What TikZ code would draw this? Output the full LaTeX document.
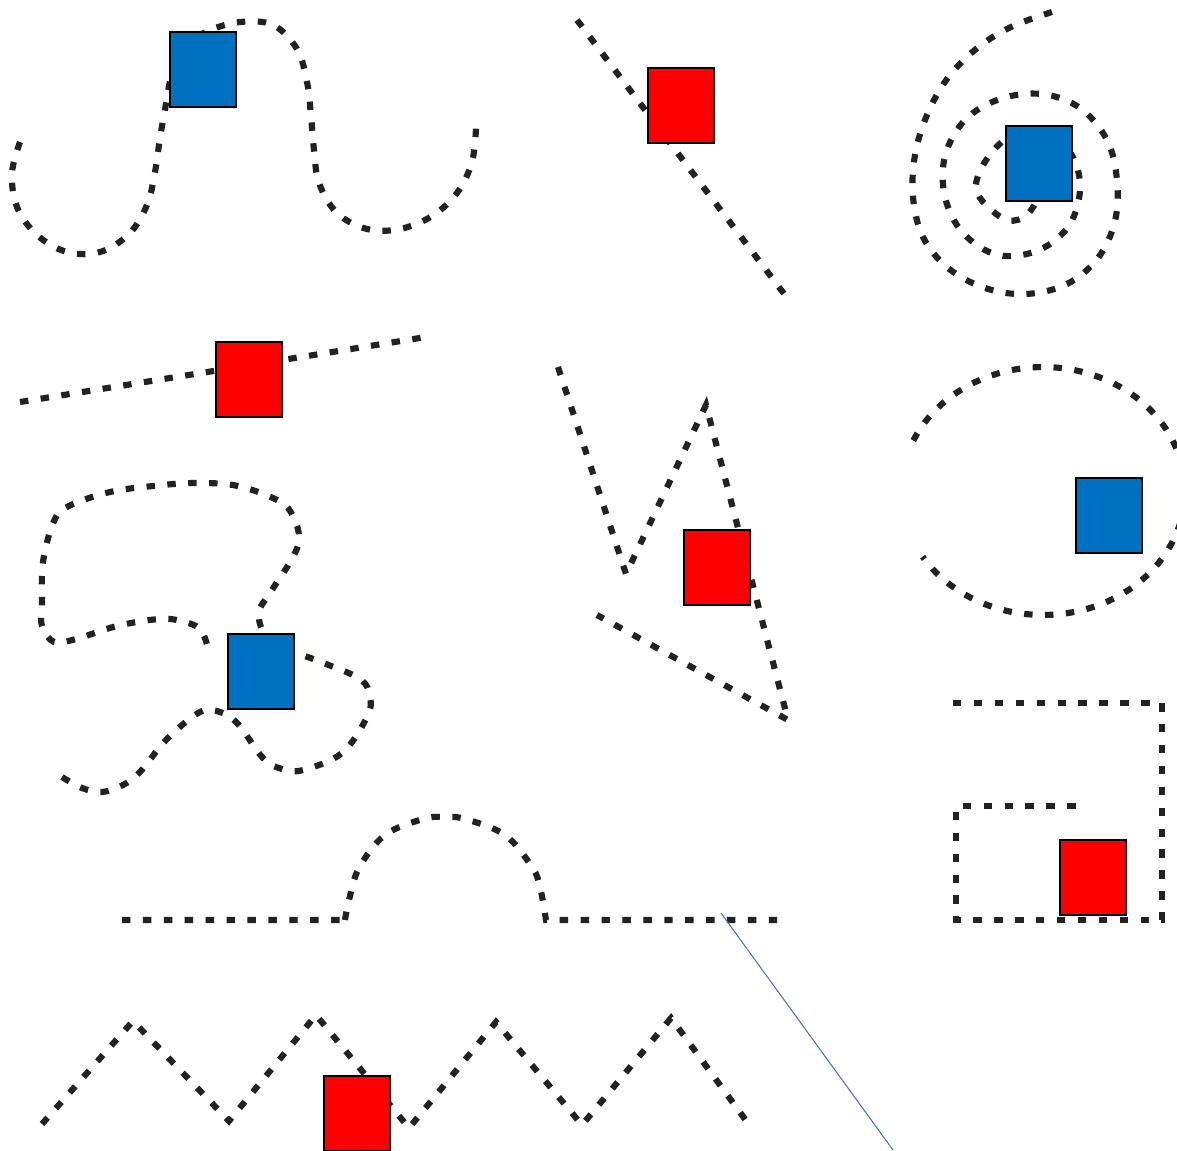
\documentclass[tikz,border=0pt]{standalone}
\usepackage{tikz}
\definecolor{boxblue}{HTML}{0070C0}
\definecolor{trailgray}{HTML}{222222}
\definecolor{guideblue}{HTML}{4472C4}

\begin{document}
\begin{tikzpicture}[x=0.02cm, y=-0.02cm,
        trail/.style={trailgray, line width=3.5pt, dash pattern=on 4.8pt off 7.1pt},
        tile/.style={rectangle, draw=black, line width=1.1pt, inner sep=0pt,
            minimum width=1.32cm, minimum height=1.5cm},
        bluetile/.style={tile, fill=boxblue},
        redtile/.style={tile, fill=red}]
        % Page frame (the picture is cut at its edges)
        \clip (0,0) rectangle (1177,1150);

        % Wavy trail, top left
        \draw[trail] plot[smooth, tension=0.6] coordinates {(20,142) (12,173) (17,207) (37,235) (67,252)
            (100,252) (129,234) (147,205) (155,172) (160,138) (166,104) (172,75) (188,45) (208,31)
            (240,22) (273,25) (297,49) (307,82) (311,116) (314,150) (319,183) (337,213) (367,229)
            (400,229) (432,216) (457,193) (472,162) (476,128)};

        % Straight trails
        \draw[trail] (577,20) -- (785,295);
        \draw[trail] (20,402) -- (426,337);

        % Spiral, top right
        \draw[trail] plot[smooth, tension=0.6] coordinates {(1052,12) (1011,27) (976,49) (947,79) (927,115)
            (915,155) (913,197) (923,237) (948,268) (985,288) (1026,294) (1067,284) (1098,258)
            (1115,221) (1117,180) (1107,140) (1080,108) (1042,94) (1000,99) (965,120) (945,156)
            (945,197) (963,233) (998,255) (1039,250) (1070,224) (1080,183) (1065,147) (1022,133)
            (992,152) (976,189) (1002,218) (1023,218) (1035,204)};

        % Zigzag in the middle
        \draw[trail] (558,367) -- (626,574) -- (706,405) -- (788,720) -- (597,615);

        % Open ellipse, right
        \draw[trail] plot[domain=-156:148, samples=90] ({1043+142*cos(\x)}, {491+124*sin(\x)});

        % Loop trail, left
        \draw[trail] plot[smooth, tension=0.6] coordinates {(62,777) (82,788) (102,792) (123,785) (140,772)
            (167,739) (200,712) (220,712) (238,724) (263,758) (282,769) (303,770) (342,753)
            (367,717) (370,697) (360,679) (321,662) (290,650) (265,634) (259,612) (270,593)
            (293,557) (299,537) (293,516) (279,501) (238,486) (196,483) (153,486) (110,492)
            (69,506) (54,521) (43,562) (42,605) (42,626) (54,642) (76,639) (117,626) (159,619)
            (181,621) (200,629) (208,648)};

        % Bump trail
        \draw[trail] (122,920) -- (345,920)
            plot[smooth, tension=0.6] coordinates {(345,920) (349,900) (359,868) (385,835) (423,819)
            (444,817) (465,819) (505,835) (532,867) (540,887) (546,920)}
            -- (780,920);

        % Square hook, bottom right
        \draw[trail] (953,703) -- (1162,703) -- (1162,920) -- (956,920) -- (956,806) -- (1086,806);

        % Zigzag, bottom
        \draw[trail] (42,1124) -- (133,1021) -- (229,1121) -- (316,1015) -- (409,1128) -- (496,1022)
            -- (582,1125) -- (671,1018) -- (750,1126);

        % Thin guide line
        \coordinate (guideA) at (721,913);
        \coordinate (guideB) at (893,1150);
        \draw[guideblue, line width=0.6pt] (guideA) -- (guideB);

        % Tiles
        \node[bluetile] (waveTile) at (203,69.5) {};
        \node[redtile] (lineTile) at (681,105.5) {};
        \node[bluetile] (spiralTile) at (1039,163.5) {};
        \node[redtile] (slopeTile) at (249,379.5) {};
        \node[redtile] (zigTile) at (717,567.5) {};
        \node[bluetile] (arcTile) at (1109,515.5) {};
        \node[bluetile] (loopTile) at (261,671.5) {};
        \node[redtile] (hookTile) at (1093,877.5) {};
        \node[redtile] (baseTile) at (357,1113.5) {};
\end{tikzpicture}
\end{document}
